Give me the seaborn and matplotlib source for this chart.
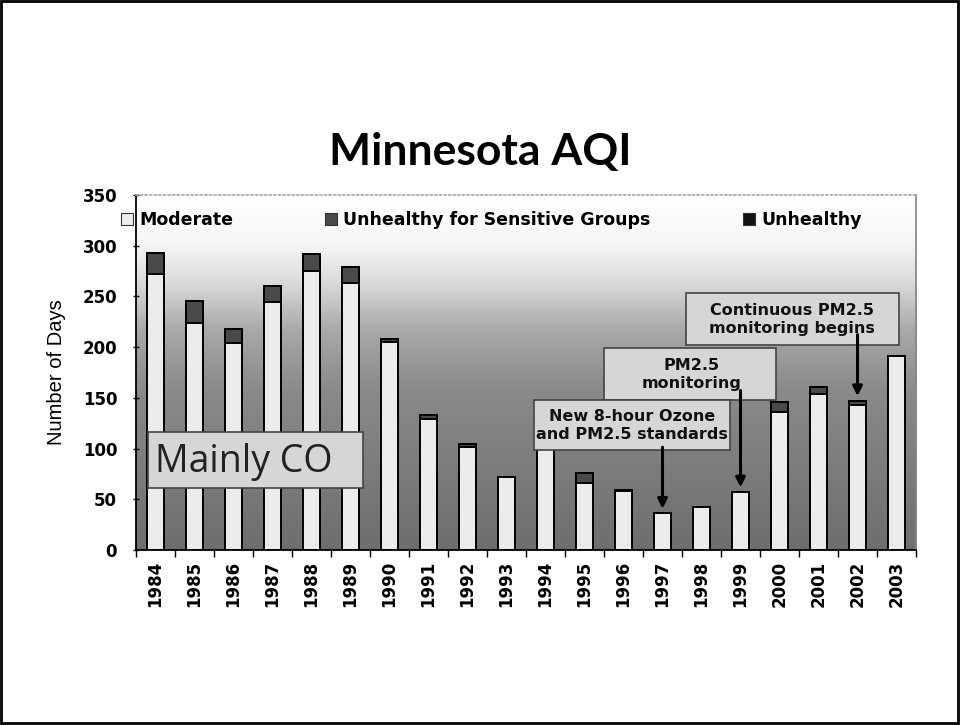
import matplotlib
matplotlib.use("Agg")
import matplotlib.pyplot as plt
import seaborn as sns
import pandas as pd
import numpy as np
from matplotlib.patches import Patch, Rectangle
from matplotlib.colors import LinearSegmentedColormap

# chart data
years = [str(y) for y in range(1984, 2004)]
moderate = [272, 224, 204, 244, 275, 263, 205, 129, 102, 72, 100, 66, 58, 36, 42, 57, 136, 154, 143, 191]
usg = [21, 21, 14, 16, 17, 16, 3, 4, 2, 0, 0, 10, 1, 0, 0, 0, 10, 7, 4, 0]
unhealthy = [0, 0, 0, 0, 0, 0, 0, 0, 0, 0, 0, 0, 0, 0, 0, 0, 0, 0, 0, 0]
series_names = ["Moderate", "Unhealthy for Sensitive Groups", "Unhealthy"]
y_ticks = [0, 50, 100, 150, 200, 250, 300, 350]

COLORS = {
    "Moderate": "#ececec",
    "Unhealthy for Sensitive Groups": "#4a4a4a",
    "Unhealthy": "#111111",
}

sns.set_theme(style="white")
plt.rcParams.update({
    "font.family": ["Liberation Sans", "DejaVu Sans"],
    "text.color": "black",
    "axes.labelcolor": "black",
    "xtick.color": "black",
    "ytick.color": "black",
})
BOLD_FONT = ["DejaVu Sans"]

df = pd.DataFrame({"year": years, "moderate": moderate, "usg": usg, "unhealthy": unhealthy})
df["lvl_usg"] = df["moderate"] + df["usg"]
df["lvl_total"] = df["lvl_usg"] + df["unhealthy"]

fig = plt.figure(figsize=(9.61, 7.25), dpi=100)
fig.patch.set_facecolor("white")
ax = fig.add_axes([0.1415, 0.2414, 0.8117, 0.4897])

# gradient background of the plot area (the scan is dithered white -> dark grey)
grad_cmap = LinearSegmentedColormap.from_list(
    "bg", [(0.0, "#6e6e6e"), (0.45, "#8a8a8a"), (0.62, "#a9a9a9"), (0.75, "#dadada"), (0.86, "#f6f6f6"), (1.0, "#ffffff")])
grad = np.linspace(0, 1, 256).reshape(-1, 1)
ax.imshow(grad, cmap=grad_cmap, origin="lower", aspect="auto", extent=[0, 1, 0, 1],
          transform=ax.transAxes, zorder=0)

# stacked bars: draw cumulative levels, tallest first
for col, name in [("lvl_total", "Unhealthy"), ("lvl_usg", "Unhealthy for Sensitive Groups"), ("moderate", "Moderate")]:
    sns.barplot(data=df, x="year", y=col, ax=ax, color=COLORS[name], width=0.43,
                edgecolor="black", linewidth=1.4, saturation=1, zorder=2)

ax.set_xlim(-0.5, 19.5)
ax.set_ylim(0, 350)
ax.set_yticks(y_ticks)
ax.set_yticklabels([str(t) for t in y_ticks], fontweight="bold", fontsize=12, family=BOLD_FONT)
ax.set_xticks(range(len(years)))
ax.set_xticklabels(years, rotation=90, fontweight="bold", fontsize=12, family=BOLD_FONT)
ax.set_xticks(np.arange(-0.5, 20, 1), minor=True)
ax.tick_params(axis="x", which="major", length=0, pad=8)
ax.tick_params(axis="x", which="minor", length=5, width=1, direction="out", color="black", bottom=True)
ax.tick_params(axis="y", which="major", length=5, width=1, direction="inout", color="black", left=True, pad=11)
ax.set_xlabel("")
ax.set_ylabel("Number of Days", fontsize=14.5, labelpad=12)

for side in ["left", "bottom"]:
    ax.spines[side].set_color("black")
    ax.spines[side].set_linewidth(1.3)
ax.spines["top"].set_color("#aaaaaa")
ax.spines["top"].set_linestyle(":")
ax.spines["right"].set_color("#888888")

handles = [Patch(facecolor=COLORS[n], edgecolor="#333333", linewidth=0.8, label=n) for n in series_names]
leg = ax.legend(handles=handles, loc="upper left", bbox_to_anchor=(-0.035, 0.99), ncol=3,
                frameon=False, handlelength=0.7, handleheight=0.7, handletextpad=0.35,
                columnspacing=5.3, borderaxespad=0.3,
                prop={"weight": "bold", "size": 12.5, "family": BOLD_FONT})
leg.set_zorder(5)

# annotation boxes
box_style = dict(facecolor="#d6d6d6", edgecolor="#444444", linewidth=1.2, zorder=4)
ax.add_patch(Rectangle((-0.19, 61), 5.5, 55, **box_style))
ax.text(0.0, 87, "Mainly CO", fontsize=27, family=["Open Sans", "DejaVu Sans"], va="center", ha="left", zorder=5,
        color="#222222")

ann_font = dict(fontsize=11.5, fontweight="bold", family=BOLD_FONT, ha="center", va="center", zorder=6,
                color="#111111", linespacing=1.25)
ax.add_patch(Rectangle((13.61, 202), 5.45, 51, **box_style))
ax.text(16.33, 227, "Continuous PM2.5\nmonitoring begins", **ann_font)
ax.add_patch(Rectangle((11.5, 148), 4.4, 51, **box_style))
ax.text(13.75, 173, "PM2.5\nmonitoring", **ann_font)
ax.add_patch(Rectangle((9.71, 99), 5.01, 49, **box_style))
ax.text(12.22, 123, "New 8-hour Ozone\nand PM2.5 standards", **ann_font)

arrow = dict(arrowstyle="-|>", color="black", lw=2.2, mutation_scale=14)
ax.annotate("", xy=(13, moderate[13] + 2), xytext=(13, 104), arrowprops=arrow, zorder=7)
ax.annotate("", xy=(15, moderate[15] + 2), xytext=(15, 160), arrowprops=arrow, zorder=7)
ax.annotate("", xy=(18, moderate[18] + usg[18] + 2), xytext=(18, 215), arrowprops=arrow, zorder=7)

fig.text(0.5, 0.791, "Minnesota AQI", ha="center", va="center", fontsize=32, fontweight="bold",
         family=["Lato", "DejaVu Sans"], color="black")

# slide border
fig.patches.append(Rectangle((0.001, 0.003), 0.996, 0.995, transform=fig.transFigure, fill=False,
                             edgecolor="black", linewidth=2))

fig.savefig("out.png", dpi=100)
